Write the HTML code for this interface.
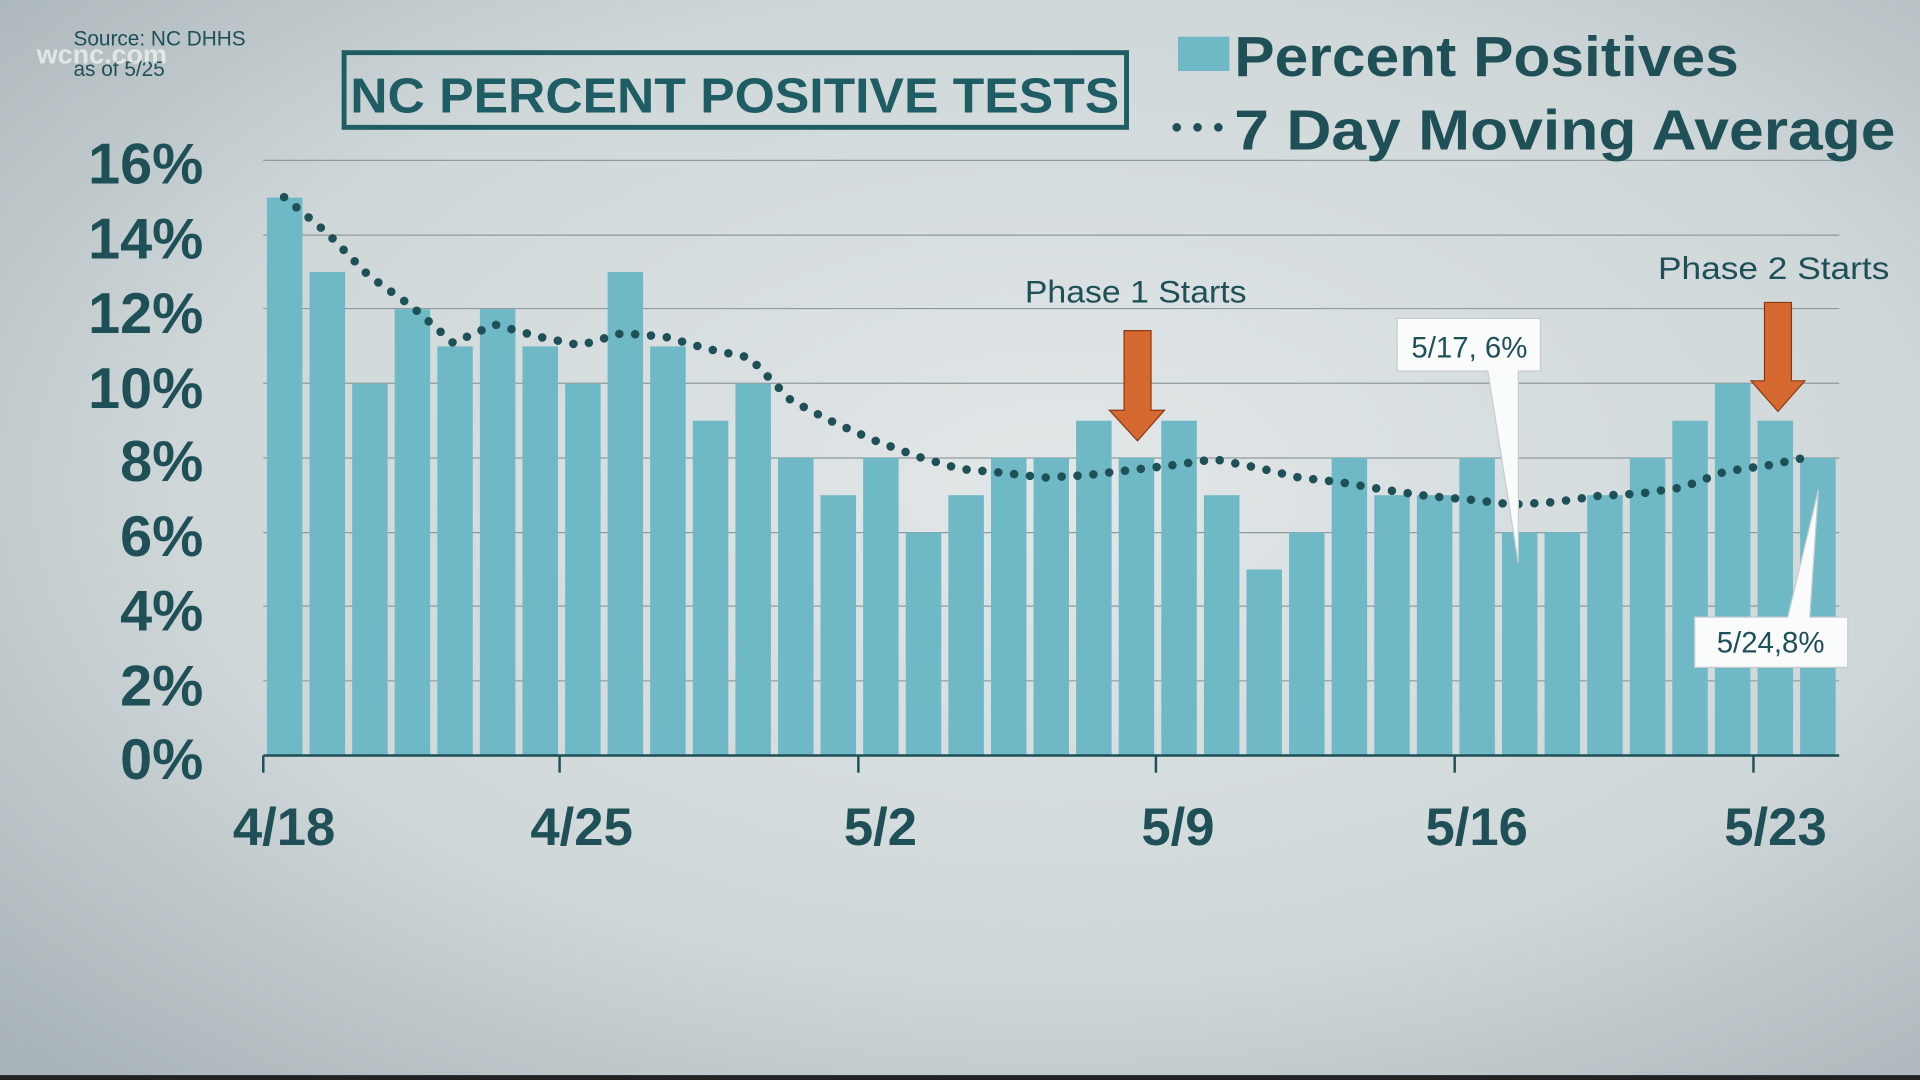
<!DOCTYPE html>
<html><head><style>
html,body{margin:0;padding:0;width:1920px;height:1080px;overflow:hidden;background:#c9d2d5}
svg{display:block}
text{font-family:"Liberation Sans",sans-serif;fill:#1f4f57}
</style></head><body>
<svg width="1920" height="1080" viewBox="0 0 1568 882" preserveAspectRatio="none">
<defs>
<radialGradient id="bg" cx="0.55" cy="0.45" r="0.75">
<stop offset="0" stop-color="#e2e7e8"/><stop offset="0.6" stop-color="#cfd7d9"/><stop offset="1" stop-color="#a9b4b8"/>
</radialGradient>
</defs>
<rect width="1568" height="882" fill="url(#bg)"/>
<rect y="878" width="1568" height="4" fill="#222"/>
<g stroke="#8f9a9d" stroke-width="1">
<line x1="215" y1="131" x2="1502" y2="131"/><line x1="215" y1="192" x2="1502" y2="192"/>
<line x1="215" y1="252" x2="1502" y2="252"/><line x1="215" y1="313" x2="1502" y2="313"/>
<line x1="215" y1="374" x2="1502" y2="374"/><line x1="215" y1="435" x2="1502" y2="435"/>
<line x1="215" y1="495" x2="1502" y2="495"/><line x1="215" y1="556" x2="1502" y2="556"/>
</g>
<g fill="#6fb9c7">
<rect x="218" y="161.4" width="29" height="455.6"/>
<rect x="252.8" y="222.1" width="29" height="394.9"/>
<rect x="287.6" y="313.3" width="29" height="303.7"/>
<rect x="322.3" y="252.5" width="29" height="364.5"/>
<rect x="357.1" y="282.9" width="29" height="334.1"/>
<rect x="391.9" y="252.5" width="29" height="364.5"/>
<rect x="426.7" y="282.9" width="29" height="334.1"/>
<rect x="461.5" y="313.3" width="29" height="303.7"/>
<rect x="496.2" y="222.1" width="29" height="394.9"/>
<rect x="531.0" y="282.9" width="29" height="334.1"/>
<rect x="565.8" y="343.6" width="29" height="273.4"/>
<rect x="600.6" y="313.3" width="29" height="303.7"/>
<rect x="635.4" y="374" width="29" height="243"/>
<rect x="670.1" y="404.4" width="29" height="212.6"/>
<rect x="704.9" y="374" width="29" height="243"/>
<rect x="739.7" y="434.8" width="29" height="182.2"/>
<rect x="774.5" y="404.4" width="29" height="212.6"/>
<rect x="809.3" y="374" width="29" height="243"/>
<rect x="844.0" y="374" width="29" height="243"/>
<rect x="878.8" y="343.6" width="29" height="273.4"/>
<rect x="913.6" y="374" width="29" height="243"/>
<rect x="948.4" y="343.6" width="29" height="273.4"/>
<rect x="983.2" y="404.4" width="29" height="212.6"/>
<rect x="1017.9" y="465.1" width="29" height="151.9"/>
<rect x="1052.7" y="434.8" width="29" height="182.2"/>
<rect x="1087.5" y="374" width="29" height="243"/>
<rect x="1122.3" y="404.4" width="29" height="212.6"/>
<rect x="1157.1" y="404.4" width="29" height="212.6"/>
<rect x="1191.8" y="374" width="29" height="243"/>
<rect x="1226.6" y="434.8" width="29" height="182.2"/>
<rect x="1261.4" y="434.8" width="29" height="182.2"/>
<rect x="1296.2" y="404.4" width="29" height="212.6"/>
<rect x="1331.0" y="374" width="29" height="243"/>
<rect x="1365.7" y="343.6" width="29" height="273.4"/>
<rect x="1400.5" y="313.3" width="29" height="303.7"/>
<rect x="1435.3" y="343.6" width="29" height="273.4"/>
<rect x="1470.1" y="374" width="29" height="243"/>
</g>
<g stroke="#1f4f57" stroke-width="2">
<line x1="215" y1="617" x2="1502" y2="617"/>
<line x1="215" y1="617" x2="215" y2="631"/><line x1="457" y1="617" x2="457" y2="631"/>
<line x1="701" y1="617" x2="701" y2="631"/><line x1="944" y1="617" x2="944" y2="631"/>
<line x1="1188" y1="617" x2="1188" y2="631"/><line x1="1432" y1="617" x2="1432" y2="631"/>
</g>
<polyline fill="none" stroke="#1f4f57" stroke-width="7" stroke-linecap="round" stroke-dasharray="0 13"
points="232,161 267,190 301,225 336,250 370,280 404,265 440,275 474,282 508,272 543,275 578,285 612,292 646,327 681,345 715,360 750,373 784,383 818,386 853,390 888,388 922,384 957,380 992,375 1027,382 1061,390 1096,394 1131,400 1165,405 1200,408 1235,412 1270,410 1305,405 1340,403 1374,398 1409,385 1444,380 1478,373"/>
<g font-size="47" font-weight="bold" text-anchor="end">
<text x="166" y="150">16%</text><text x="166" y="211">14%</text><text x="166" y="272">12%</text>
<text x="166" y="333">10%</text><text x="166" y="393">8%</text><text x="166" y="454">6%</text>
<text x="166" y="515">4%</text><text x="166" y="576">2%</text><text x="166" y="636">0%</text>
</g>
<g font-size="43" font-weight="bold" text-anchor="middle">
<text x="232" y="690">4/18</text><text x="475" y="690">4/25</text><text x="719" y="690">5/2</text>
<text x="962" y="690">5/9</text><text x="1206" y="690">5/16</text><text x="1450" y="690">5/23</text>
</g>
<text x="60" y="37" font-size="17" fill="#4f6a70">Source: NC DHHS</text>
<text x="60" y="62" font-size="17" fill="#4f6a70">as of 5/25</text>
<text x="30" y="52" font-size="22" font-weight="bold" style="fill:#f2f4f5;opacity:0.75">wcnc.com</text>
<rect x="281" y="43" width="639" height="61" fill="none" stroke="#1f5d64" stroke-width="4"/>
<text x="286" y="92" font-size="40" font-weight="bold" textLength="628" lengthAdjust="spacingAndGlyphs" style="fill:#1f5d64">NC PERCENT POSITIVE TESTS</text>
<rect x="962" y="30" width="42" height="28" fill="#6fb9c7"/>
<text x="1008" y="62" font-size="46" font-weight="bold" textLength="412" lengthAdjust="spacingAndGlyphs">Percent Positives</text>
<g fill="#1f4f57"><circle cx="961" cy="104" r="3.5"/><circle cx="978" cy="104" r="3.5"/><circle cx="995" cy="104" r="3.5"/></g>
<text x="1008" y="122" font-size="46" font-weight="bold" textLength="540" lengthAdjust="spacingAndGlyphs">7 Day Moving Average</text>
<text x="837" y="247" font-size="26" textLength="181" lengthAdjust="spacingAndGlyphs">Phase 1 Starts</text>
<text x="1354" y="228" font-size="26" textLength="189" lengthAdjust="spacingAndGlyphs">Phase 2 Starts</text>
<polygon points="918,270 940,270 940,335 951,335 929,360 906,335 918,335" fill="#d6692f" stroke="#8a3a12" stroke-width="1"/>
<polygon points="1441,247 1463,247 1463,311 1474,311 1452,336 1430,311 1441,311" fill="#d6692f" stroke="#8a3a12" stroke-width="1"/>
<polygon points="1141,260 1258,260 1258,303 1240,303 1240,460 1215,303 1141,303" fill="#fafbfb" stroke="#c7cdcf"/>
<text x="1200" y="292" font-size="24" text-anchor="middle">5/17, 6%</text>
<polygon points="1384,504 1460,504 1485,400 1478,504 1509,504 1509,545 1384,545" fill="#fafbfb" stroke="#c7cdcf"/>
<text x="1446" y="533" font-size="24" text-anchor="middle">5/24,8%</text>
</svg>
</body></html>
